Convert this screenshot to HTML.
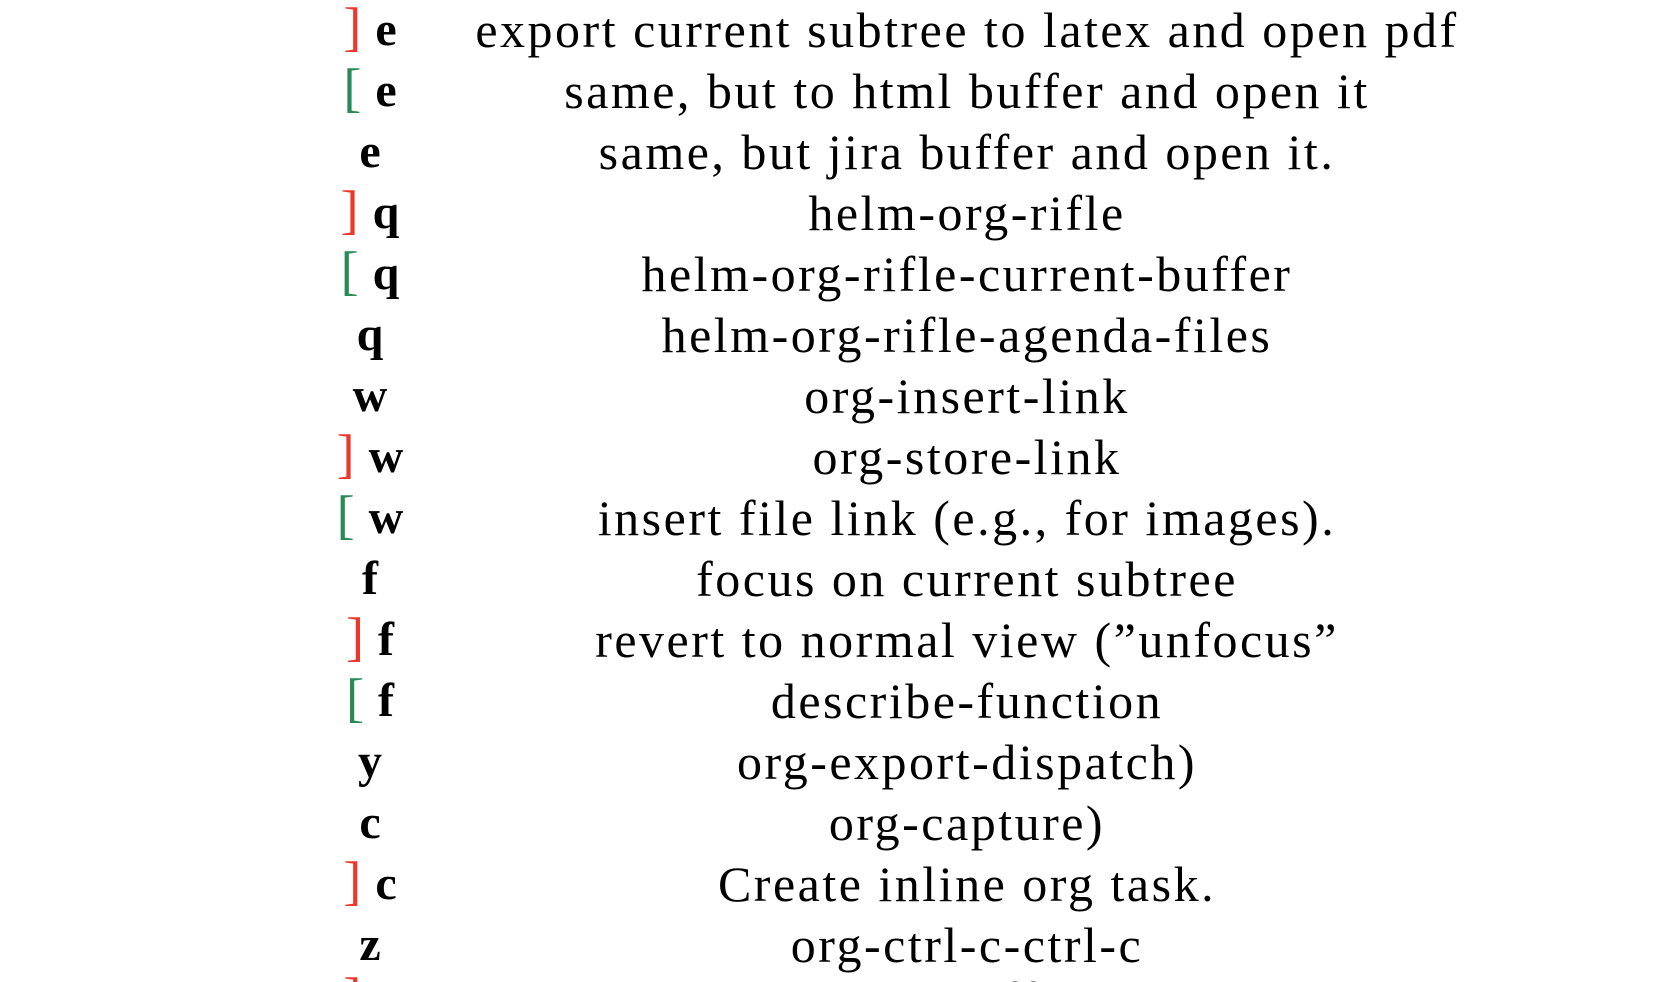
<!DOCTYPE html>
<html><head><meta charset="utf-8"><style>
html,body{margin:0;padding:0;background:#fff;width:1658px;height:982px;overflow:hidden;position:relative;font-family:"Liberation Serif","DejaVu Serif",serif;color:#000}
.k,.d{position:absolute;white-space:nowrap;font-size:50px;line-height:50px;transform:translateX(-50%);margin-top:-3px}
.k{left:370px;font-weight:bold;font-size:48px}
.d{left:967px;letter-spacing:2.5px}
.r,.g{font-weight:normal;font-size:54px;line-height:0;margin-right:14px;position:relative;top:0px}
.r{color:#e8392b}
.g{color:#2a8a55}
</style></head><body>
<div class="k" style="top:8px"><span class="r">]</span>e</div><div class="d" style="top:8px">export current subtree to latex and open pdf</div>
<div class="k" style="top:69px"><span class="g">[</span>e</div><div class="d" style="top:69px">same, but to html buffer and open it</div>
<div class="k" style="top:130px">e</div><div class="d" style="top:130px">same, but jira buffer and open it.</div>
<div class="k" style="top:191px"><span class="r">]</span>q</div><div class="d" style="top:191px">helm-org-rifle</div>
<div class="k" style="top:252px"><span class="g">[</span>q</div><div class="d" style="top:252px">helm-org-rifle-current-buffer</div>
<div class="k" style="top:313px">q</div><div class="d" style="top:313px">helm-org-rifle-agenda-files</div>
<div class="k" style="top:374px">w</div><div class="d" style="top:374px">org-insert-link</div>
<div class="k" style="top:435px"><span class="r">]</span>w</div><div class="d" style="top:435px">org-store-link</div>
<div class="k" style="top:496px"><span class="g">[</span>w</div><div class="d" style="top:496px">insert file link (e.g., for images).</div>
<div class="k" style="top:557px">f</div><div class="d" style="top:557px">focus on current subtree</div>
<div class="k" style="top:618px"><span class="r">]</span>f</div><div class="d" style="top:618px">revert to normal view (”unfocus”</div>
<div class="k" style="top:679px"><span class="g">[</span>f</div><div class="d" style="top:679px">describe-function</div>
<div class="k" style="top:740px">y</div><div class="d" style="top:740px">org-export-dispatch)</div>
<div class="k" style="top:801px">c</div><div class="d" style="top:801px">org-capture)</div>
<div class="k" style="top:862px"><span class="r">]</span>c</div><div class="d" style="top:862px">Create inline org task.</div>
<div class="k" style="top:923px">z</div><div class="d" style="top:923px">org-ctrl-c-ctrl-c</div>
<div class="k" style="top:978px"><span class="r">]</span>z</div><div class="d" style="top:978px">kill-buffer</div>
</body></html>
